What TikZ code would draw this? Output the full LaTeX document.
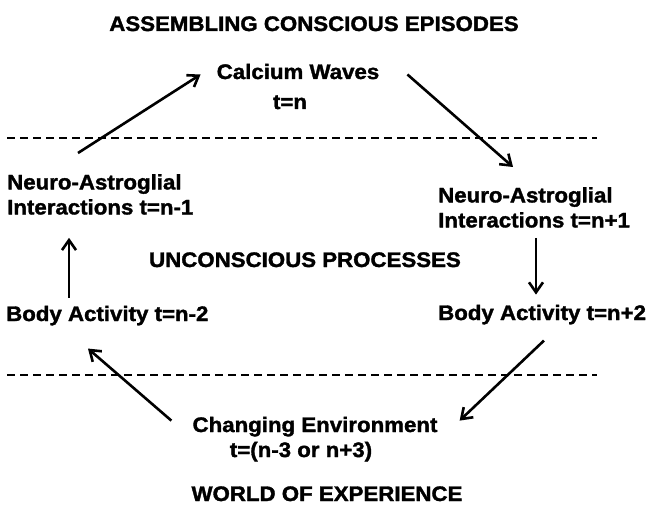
\documentclass[tikz,border=0pt]{standalone}
\usepackage{fontspec}
\newfontfamily\figfont{Liberation Sans}[FakeStretch=1.06,FakeBold=1.6,BoldFeatures={FakeStretch=1.06,FakeBold=1.6}]
\usetikzlibrary{arrows.meta,calc}

\begin{document}
\begin{tikzpicture}[x=1pt,y=-1pt,
  lbl/.style={inner sep=0pt,font=\figfont\bfseries\fontsize{21}{25}\selectfont},
  arr/.style={line width=2.6pt,-{Straight Barb[length=10pt,width=14pt]}},
  sep/.style={line width=1.5pt,dash pattern=on 8pt off 5pt}]
\useasboundingbox (0,0) rectangle (651,508);
% headings
\node[lbl,anchor=base] (title) at (314,31) {ASSEMBLING CONSCIOUS EPISODES};
\node[lbl,anchor=base] (unc) at (305,267) {UNCONSCIOUS PROCESSES};
\node[lbl,anchor=base] (woe) at (327,501) {WORLD OF EXPERIENCE};
% separators
\draw[sep] (7,138)--(597,138);
\draw[sep] (7,375)--(597,375);
% cycle
\node[lbl,anchor=base] (cw) at (298,79) {Calcium Waves};
\node[lbl,anchor=base] (cwt) at (290,109) {t=n};
\node[lbl,anchor=north west,align=left] (nar) at (438,187) {Neuro-Astroglial\\Interactions t=n+1};
\node[lbl,anchor=base west] (bar) at (438,320) {Body Activity t=n+2};
\node[lbl,anchor=base] (ce) at (315,432) {Changing Environment};
\node[lbl,anchor=base] (cet) at (301,457) {t=(n-3 or n+3)};
\node[lbl,anchor=base west] (bal) at (6,321) {Body Activity t=n-2};
\node[lbl,anchor=north west,align=left] (nal) at (7,174) {Neuro-Astroglial\\Interactions t=n-1};
% arrows
\draw[arr] ($(nal.north west)+(71,-21)$) -- ($(cw.west)+(-16,3)$);
\draw[arr] ($(cw.east)+(28,3)$) -- ($(nar.north west)+(75,-20)$);
\draw[arr] ($(nar.south west)+(98,10)$) -- ($(bar.north west)+(98,-10)$);
\draw[arr] ($(bar.south west)+(106,16)$) -- ($(ce.east)+(22,-6)$);
\draw[arr] ($(ce.west)+(-21,-6)$) -- ($(bal.south west)+(82,23)$);
\draw[arr] ($(bal.north west)+(63,-8)$) -- ($(nal.south west)+(62,23)$);
\end{tikzpicture}
\end{document}
